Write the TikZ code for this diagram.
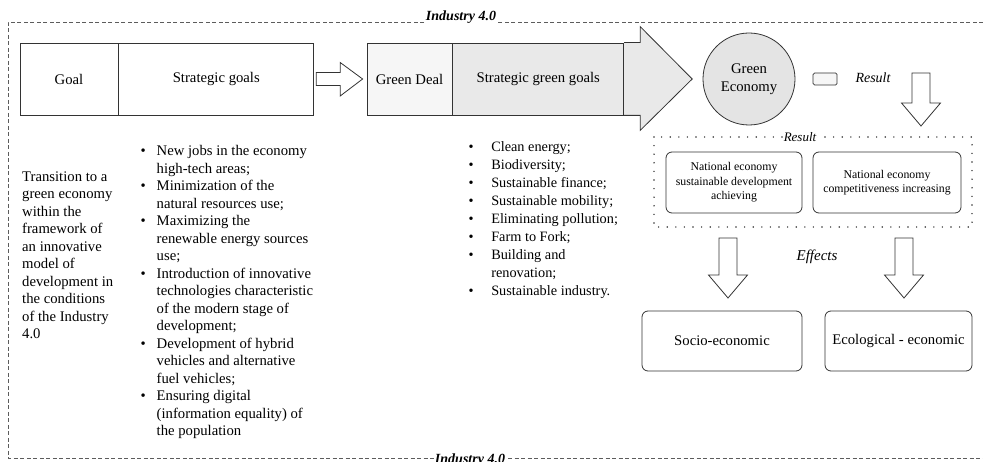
\documentclass[tikz,border=0pt]{standalone}
\usepackage{fontspec}
\setmainfont{Liberation Serif}
\usetikzlibrary{positioning,calc}

\definecolor{ink}{HTML}{333333}
\definecolor{shadeA}{HTML}{F6F6F6}
\definecolor{shadeB}{HTML}{E9E9E9}
\definecolor{shadeC}{HTML}{E4E4E4}

% bullet and hanging indent for the lists
\newcommand{\bul}[1][16pt]{\makebox[#1][l]{\textbullet}}
\newcommand{\hang}[1][16pt]{\hspace*{#1}}

\begin{document}
\begin{tikzpicture}[
  x=1pt, y=-1pt,
  txt/.style={font=\fontsize{14.7}{17.5}\selectfont, align=left, inner sep=0pt},
  small/.style={font=\fontsize{11.8}{14.5}\selectfont, align=center},
  box/.style={draw=ink, line width=0.8pt, inner sep=2pt, align=center,
    font=\fontsize{14.7}{18}\selectfont},
  rbox/.style={box, rounded corners=6pt},
  lbl/.style={font=\fontsize{14}{16}\selectfont\itshape},
  frame/.style={draw=ink!80, line width=0.6pt, dash pattern=on 4pt off 2.5pt},
  blockline/.style={draw=ink, line width=0.8pt, line join=miter},
  pics/blockdown/.style={code={
    \draw[blockline, fill=white] (-9,0) -- (9,0) -- (9,#1) -- (19.5,#1)
      -- (0,#1+23) -- (-19.5,#1) -- (-9,#1) -- cycle;}}
]
  \useasboundingbox (0,0) rectangle (983,462);

  % Industry 4.0 frame
  \draw[frame] (983,22) -- (8,22) -- (8,458) -- (983,458);
  \node[fill=white, inner sep=1pt, anchor=base,
    font=\fontsize{14}{16}\selectfont\bfseries\itshape] (ind top) at (461,21) {Industry 4.0};
  \node[fill=white, inner sep=1pt, anchor=base,
    font=\fontsize{14}{16}\selectfont\bfseries\itshape] (ind bot) at (470,463) {Industry 4.0};

  % first row of boxes
  \node[box, minimum width=98pt, minimum height=72pt] (goal) at (69,79) {Goal};
  \node[box, minimum width=195pt, minimum height=72pt, right=0pt of goal] (sgoals) {Strategic goals};
  \node[box, fill=shadeA, minimum width=85pt, minimum height=72pt] (gdeal) at (409.5,79) {Green Deal};
  \node[box, fill=shadeB, minimum width=171pt, minimum height=72pt, right=0pt of gdeal] (sggoals) {Strategic green goals};

  % arrow between the goal boxes
  \draw[blockline, fill=white] ($(sgoals.east)+(2,-6.5)$) -- ++(24,0) -- ++(0,-10)
    -- ($(gdeal.west)+(-4,0)$) -- ($(sgoals.east)+(26,17)$) -- ++(0,-10.5)
    -- ++(-24,0) -- cycle;

  % head of the big arrow
  \draw[blockline, fill=shadeB] (sggoals.north east) -- ++(16,0) -- ++(0,-16)
    -- ($(sggoals.east)+(68,0)$) -- ($(sggoals.south east)+(16,15)$)
    -- ++(0,-15) -- (sggoals.south east);

  \node[draw=ink, line width=0.8pt, fill=shadeC, circle, minimum size=92pt, align=center,
    font=\fontsize{14.7}{18}\selectfont] (geco) at (749,79) {Green\\Economy};

  % legend and result arrow
  \draw[draw=ink, line width=0.7pt, fill=shadeA, rounded corners=1.5pt] (813,73) rectangle (837,85);
  \node[lbl] (res) at (873,78) {Result};
  \pic at (921,73) {blockdown=30};

  % texts under the first row
  \node[txt, anchor=north west] (trans) at (22,171.5)
    {Transition to a\\green economy\\within the\\framework of\\an innovative\\model of\\development in\\the conditions\\of the Industry\\4.0};

  \node[txt, anchor=north west] (slist) at (140.5,145.5)
    {\bul New jobs in the economy\\
     \hang high-tech areas;\\
     \bul Minimization of the\\
     \hang natural resources use;\\
     \bul Maximizing the\\
     \hang renewable energy sources\\
     \hang use;\\
     \bul Introduction of innovative\\
     \hang technologies characteristic\\
     \hang of the modern stage of\\
     \hang development;\\
     \bul Development of hybrid\\
     \hang vehicles and alternative\\
     \hang fuel vehicles;\\
     \bul Ensuring digital\\
     \hang (information equality) of\\
     \hang the population};

  \node[txt, anchor=north west, font=\fontsize{14.3}{18}\selectfont] (glist) at (468.5,141.5)
    {\bul[19pt] Clean energy;\\
     \bul[19pt] Biodiversity;\\
     \bul[19pt] Sustainable finance;\\
     \bul[19pt] Sustainable mobility;\\
     \bul[19pt] Eliminating pollution;\\
     \bul[19pt] Farm to Fork;\\
     \bul[19pt] Building and\\
     \hang[19pt] renovation;\\
     \bul[19pt] Sustainable industry.};

  % result block
  \draw[draw=ink, line width=1.6pt, line cap=round, dash pattern=on 0pt off 8.6pt]
    (654,137) rectangle (972,227);
  \node[lbl, fill=white, inner sep=1pt, font=\fontsize{13}{15}\selectfont\itshape] (res2) at (800,137) {Result};
  \node[rbox, small, minimum width=136pt, minimum height=61pt] (sustain) at (734,182.5)
    {National economy\\sustainable development\\achieving};
  \node[rbox, small, minimum width=148pt, minimum height=61pt] (compet) at (887,182.5)
    {National economy\\competitiveness increasing};

  % effects
  \pic at (728,238) {blockdown=37};
  \pic at (904,238) {blockdown=37};
  \node[lbl, font=\fontsize{15}{17}\selectfont\itshape] (eff) at (817,257) {Effects};

  \node[rbox, minimum width=160pt, minimum height=60pt] (socio) at (722,341) {Socio-economic};
  \node[rbox, minimum width=147pt, minimum height=60pt] (ecol) at (898.5,341) {Ecological - economic};
\end{tikzpicture}
\end{document}
